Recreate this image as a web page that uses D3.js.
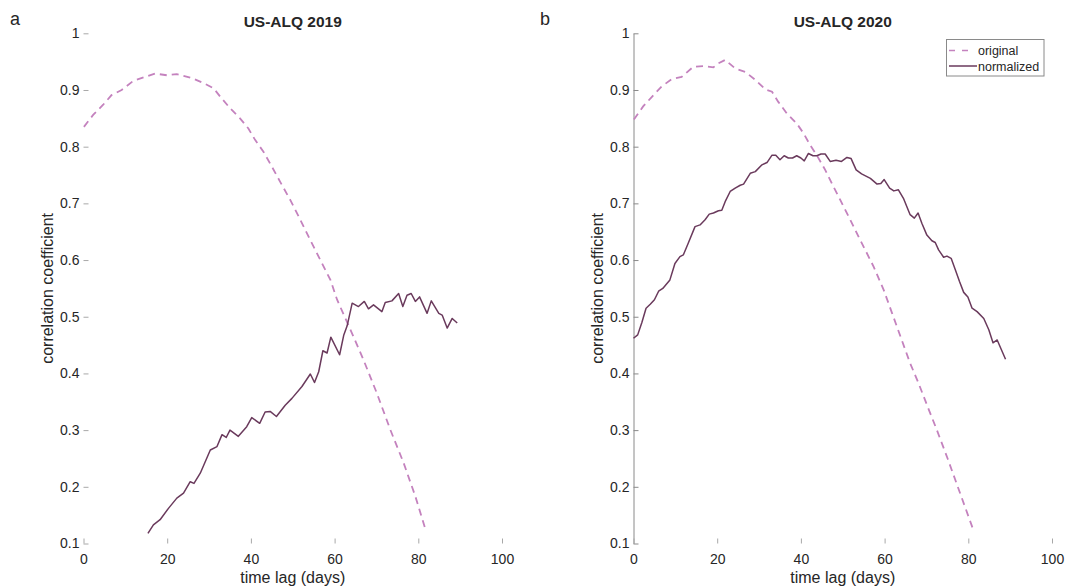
<!DOCTYPE html>
<html>
<head>
<meta charset="utf-8">
<script src="https://cdn.jsdelivr.net/npm/d3@7"></script>
<style>
  body { margin: 0; background: #fff; }
  text { font-family: "Liberation Sans", Arial, sans-serif; fill: #262626; }
</style>
</head>
<body>
<div id="chart-area"></div>
<script>
// US-ALQ 2019, original (dashed)
let lagOrig19 = [0.1, 2.3, 4.7, 6.7, 9.1, 11.9, 14.7, 17.1, 19.9, 22.3, 25.9, 28.7, 31.1, 32.7, 35.0, 37.4, 39.4, 41.0,
	43.0, 45.0, 47.0, 49.4, 51.4, 54.2, 56.6, 59.0, 60.6, 64.5, 66.9, 70.1, 73.3, 76.5, 79.3, 81.7];
let corrOrig19 = [0.835, 0.856, 0.874, 0.891, 0.900, 0.916, 0.923, 0.929, 0.926, 0.928, 0.921, 0.912, 0.903, 0.888, 0.868, 0.850, 0.832, 0.812,
	0.791, 0.765, 0.738, 0.706, 0.677, 0.635, 0.600, 0.565, 0.530, 0.465, 0.424, 0.365, 0.301, 0.242, 0.183, 0.125];

// US-ALQ 2019, normalized (solid)
let lagNorm19 = [15.4, 16.7, 18.3, 20.3, 22.3, 23.9, 25.5, 26.4, 27.9, 30.3, 31.9, 33.1, 34.1, 35.0, 37.0, 39.0, 40.2, 42.1, 43.4, 44.6,
	46.1, 48.2, 49.8, 52.2, 54.2, 55.2, 56.2, 57.2, 58.2, 59.1, 61.2, 62.2, 63.0, 64.2, 65.7, 67.1, 68.1, 69.3, 71.3, 72.1,
	73.7, 75.3, 76.3, 77.3, 78.3, 79.3, 80.3, 82.1, 83.1, 84.9, 85.7, 86.9, 88.1, 89.3];
let corrNorm19 = [0.118, 0.133, 0.142, 0.162, 0.180, 0.189, 0.209, 0.206, 0.224, 0.265, 0.271, 0.292, 0.287, 0.300, 0.289, 0.306, 0.322, 0.312, 0.332, 0.333,
	0.324, 0.344, 0.356, 0.377, 0.399, 0.384, 0.403, 0.440, 0.436, 0.464, 0.433, 0.468, 0.484, 0.524, 0.518, 0.527, 0.514, 0.521, 0.509, 0.525,
	0.528, 0.541, 0.518, 0.538, 0.541, 0.527, 0.535, 0.506, 0.528, 0.506, 0.503, 0.480, 0.497, 0.489];

// US-ALQ 2020, original (dashed)
let lagOrig20 = [0.1, 2.3, 4.4, 6.7, 9.1, 11.5, 14.3, 16.7, 19.1, 20.3, 21.9, 24.3, 26.7, 29.1, 31.5, 33.1, 34.6, 36.6, 39.0, 40.6,
	42.2, 43.8, 45.8, 47.4, 49.4, 51.4, 53.8, 57.4, 59.8, 61.8, 63.8, 66.1, 68.1, 70.3, 72.5, 75.1, 81.0];
let corrOrig20 = [0.848, 0.871, 0.888, 0.906, 0.919, 0.923, 0.941, 0.942, 0.940, 0.947, 0.953, 0.938, 0.932, 0.918, 0.901, 0.897, 0.879, 0.859, 0.841, 0.824,
	0.803, 0.785, 0.759, 0.735, 0.706, 0.677, 0.641, 0.588, 0.547, 0.506, 0.465, 0.418, 0.383, 0.341, 0.300, 0.249, 0.128];

// US-ALQ 2020, normalized (solid)
let lagNorm20 = [0, 1, 2, 3, 4, 5, 6, 7, 8.7, 9.9, 11.1, 11.9, 13.1, 14.7, 15.9, 17.1, 18.1, 19.1, 20.3, 21.1, 21.9, 23.1, 24.3, 25.5, 26.3,
	27.9, 29.1, 30.7, 31.9, 33.1, 34.0, 35.0, 36.0, 37.0, 38.0, 39.0, 40.0, 40.8, 41.8, 42.9, 43.8, 44.8, 45.8, 47.0, 48.4, 49.7,
	51.0, 52.0, 53.2, 54.5, 56.6, 58.2, 59.1, 59.9, 61.2, 62.2, 63.3, 64.5, 66.1, 67.1, 68.0, 68.9, 70.1, 71.3, 72.1, 72.9, 74.1,
	74.9, 75.9, 76.9, 77.9, 78.9, 79.9, 80.9, 82.1, 83.7, 84.9, 85.9, 86.9, 88.9];
let corrNorm20 = [0.462, 0.468, 0.490, 0.515, 0.522, 0.530, 0.545, 0.550, 0.565, 0.594, 0.606, 0.609, 0.630, 0.659, 0.662, 0.671, 0.681, 0.683, 0.687, 0.688, 0.703, 0.721, 0.727, 0.732, 0.734,
	0.753, 0.756, 0.768, 0.772, 0.785, 0.785, 0.777, 0.784, 0.780, 0.780, 0.784, 0.780, 0.775, 0.788, 0.784, 0.784, 0.787, 0.787, 0.774, 0.776, 0.774,
	0.781, 0.779, 0.759, 0.752, 0.744, 0.734, 0.735, 0.742, 0.727, 0.722, 0.724, 0.709, 0.680, 0.674, 0.683, 0.665, 0.644, 0.634, 0.631, 0.618, 0.605,
	0.607, 0.603, 0.583, 0.562, 0.543, 0.535, 0.515, 0.509, 0.497, 0.477, 0.454, 0.459, 0.425];

let xTicks = [0, 20, 40, 60, 80, 100];
let yTicks = [0.1, 0.2, 0.3, 0.4, 0.5, 0.6, 0.7, 0.8, 0.9, 1];
let seriesNames = ["original", "normalized"];

let colorOrig = "#c482be",
	colorNorm = "#6a3a5c";

let plotTop = 33.3, plotBottom = 543.5, plotW = 418.5;

let svg = d3.select("#chart-area").append("svg")
	.attr("width", 1065)
	.attr("height", 588);

function drawPanel(left, title, letter, letterX, orig, norm, axisLine, withLegend) {
	let x = d3.scaleLinear().domain([0, 100]).range([left, left + plotW]);
	let y = d3.scaleLinear().domain([0.1, 1]).range([plotBottom, plotTop]);

	let g = svg.append("g");

	// y axis, ticks point inward
	let yAxis = g.append("g")
		.attr("transform", "translate(" + left + ",0)")
		.call(d3.axisLeft(y).tickValues(yTicks).tickSizeInner(-5).tickSizeOuter(0)
			.tickPadding(4).tickFormat(d3.format("~g")));
	yAxis.select(".domain").attr("stroke", axisLine ? "#8a8a8a" : "none");
	yAxis.selectAll(".tick line").attr("stroke", axisLine ? "#8a8a8a" : "#a8a8a8");
	yAxis.selectAll(".tick text").attr("font-size", "14px").attr("fill", "#2b2b2b")
		.attr("font-family", "'Liberation Sans', Arial, sans-serif");

	let xAxis = g.append("g")
		.attr("transform", "translate(0," + plotBottom + ")")
		.call(d3.axisBottom(x).tickValues(xTicks).tickSizeInner(-5).tickSizeOuter(0).tickPadding(11));
	xAxis.select(".domain").attr("stroke", "none");
	xAxis.selectAll(".tick line").attr("stroke", "#a8a8a8");
	xAxis.selectAll(".tick text").attr("font-size", "14px").attr("fill", "#2b2b2b")
		.attr("font-family", "'Liberation Sans', Arial, sans-serif");

	let line = d3.line().x(d => x(d[0])).y(d => y(d[1]));

	g.append("path")
		.datum(d3.zip(orig[0], orig[1]))
		.attr("d", line)
		.attr("fill", "none")
		.attr("stroke", colorOrig)
		.attr("stroke-width", 1.8)
		.attr("stroke-dasharray", "7,5");

	g.append("path")
		.datum(d3.zip(norm[0], norm[1]))
		.attr("d", line)
		.attr("fill", "none")
		.attr("stroke", colorNorm)
		.attr("stroke-width", 1.5)
		.attr("stroke-linejoin", "round");

	g.append("text")
		.attr("x", left + plotW / 2)
		.attr("y", 27)
		.attr("text-anchor", "middle")
		.attr("font-size", "15.5px")
		.attr("font-weight", "bold")
		.attr("fill", "#000")
		.text(title);

	g.append("text")
		.attr("x", letterX)
		.attr("y", 25)
		.attr("font-size", "18px")
		.attr("fill", "#000")
		.text(letter);

	g.append("text")
		.attr("x", left + plotW / 2)
		.attr("y", 583)
		.attr("text-anchor", "middle")
		.attr("font-size", "16px")
		.text("time lag (days)");

	g.append("text")
		.attr("transform", "rotate(-90)")
		.attr("x", -(plotTop + plotBottom) / 2)
		.attr("y", left - 30.5)
		.attr("text-anchor", "middle")
		.attr("font-size", "16px")
		.text("correlation coefficient");

	if (withLegend) {
		let lg = g.append("g");
		lg.append("rect")
			.attr("x", 946.5).attr("y", 39.5)
			.attr("width", 97.5).attr("height", 36.5)
			.attr("fill", "#fff")
			.attr("stroke", "#8a8a8a")
			.attr("stroke-width", 1);
		lg.append("line")
			.attr("x1", 949).attr("x2", 970).attr("y1", 50.5).attr("y2", 50.5)
			.attr("stroke", colorOrig).attr("stroke-width", 1.6).attr("stroke-dasharray", "6,7");
		lg.append("line")
			.attr("x1", 949).attr("x2", 977).attr("y1", 66).attr("y2", 66)
			.attr("stroke", colorNorm).attr("stroke-width", 1.5);
		lg.append("text").attr("x", 978).attr("y", 55).attr("font-size", "12.5px").text(seriesNames[0]);
		lg.append("text").attr("x", 978).attr("y", 71).attr("font-size", "12.5px").text(seriesNames[1]);
	}
}

drawPanel(83.5, "US-ALQ 2019", "a", 10, [lagOrig19, corrOrig19], [lagNorm19, corrNorm19], false, false);
drawPanel(633.5, "US-ALQ 2020", "b", 540, [lagOrig20, corrOrig20], [lagNorm20, corrNorm20], true, true);
</script>
</body>
</html>
